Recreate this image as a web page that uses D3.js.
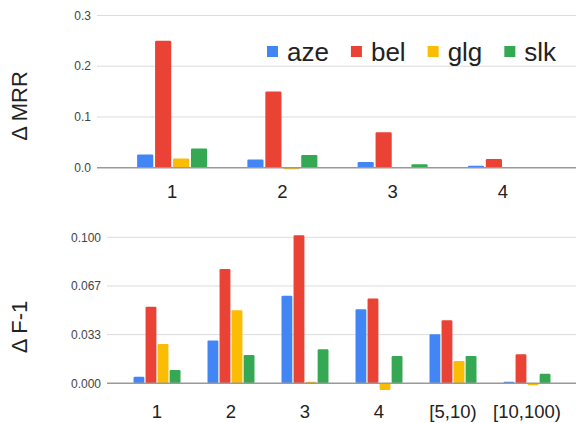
<!DOCTYPE html>
<html>
<head>
<meta charset="utf-8">
<script src="https://cdn.jsdelivr.net/npm/d3@7"></script>
<style>
  body { margin: 0; background: #fff; }
  svg { display: block; font-family: "Liberation Sans", Arial, sans-serif; }
</style>
</head>
<body>
<script>
// series + categories
const langs = ["aze", "bel", "glg", "slk"];
const colors = ["#4285F4", "#EA4335", "#FBBC04", "#34A853"];

const mrrCats = ["1", "2", "3", "4"];
const mrrVals = {
  aze: [0.026, 0.016, 0.011, 0.004],
  bel: [0.250, 0.150, 0.070, 0.017],
  glg: [0.018, -0.003, 0.000, 0.000],
  slk: [0.038, 0.025, 0.007, 0.001]
};
const mrrTicks = [0, 0.1, 0.2, 0.3];
const mrrTickLabels = ["0.0", "0.1", "0.2", "0.3"];

const f1Cats = ["1", "2", "3", "4", "[5,10)", "[10,100)"];
const f1Vals = {
  aze: [0.0045, 0.0294, 0.060, 0.0507, 0.0336, 0.001],
  bel: [0.0525, 0.0783, 0.1014, 0.058, 0.0432, 0.0199],
  glg: [0.0269, 0.050, 0.001, -0.0046, 0.0153, -0.0014],
  slk: [0.0091, 0.0194, 0.0233, 0.0187, 0.0187, 0.0066]
};
const f1Ticks = [0, 0.1 / 3, 0.2 / 3, 0.1];
const f1TickLabels = ["0.000", "0.033", "0.067", "0.100"];

const W = 576, H = 423;
const svg = d3.select("body").append("svg")
  .attr("width", W).attr("height", H);

function panel(opts) {
  const g = svg.append("g");
  const x = d3.scaleBand().domain(opts.cats).range(opts.xr)
    .paddingInner(0.365).paddingOuter(0.1825);
  const xs = d3.scaleBand().domain(langs).range([0, x.bandwidth()])
    .paddingInner(0.1);
  const y = d3.scaleLinear().domain(opts.domain).range(opts.yr);

  // grid
  g.selectAll(".grid")
    .data(opts.ticks.slice(1))
    .join("line")
    .attr("x1", opts.gridLeft).attr("x2", W)
    .attr("y1", d => y(d)).attr("y2", d => y(d))
    .attr("stroke", "#dcdcdc").attr("stroke-width", 1);

  g.selectAll(".tl")
    .data(opts.ticks)
    .join("text")
    .attr("x", opts.gridLeft - 6)
    .attr("y", d => y(d))
    .attr("dy", "0.35em")
    .attr("text-anchor", "end")
    .attr("font-size", 12)
    .attr("fill", "#444")
    .text((d, i) => opts.tickLabels[i]);

  // bars
  langs.forEach((l, li) => {
    g.selectAll(".b" + l)
      .data(opts.vals[l])
      .join("rect")
      .attr("x", (d, i) => x(opts.cats[i]) + xs(l))
      .attr("width", xs.bandwidth())
      .attr("y", d => y(Math.max(0, d)))
      .attr("height", d => Math.abs(y(d) - y(0)))
      .attr("rx", 1.2)
      .attr("fill", colors[li]);
  });

  // baseline
  g.append("line")
    .attr("x1", opts.gridLeft).attr("x2", W)
    .attr("y1", y(0)).attr("y2", y(0))
    .attr("stroke", "#999").attr("stroke-width", 1.5);

  // x labels
  g.selectAll(".xl")
    .data(opts.cats)
    .join("text")
    .attr("x", d => x(d) + x.bandwidth() / 2)
    .attr("y", opts.labelY)
    .attr("text-anchor", "middle")
    .attr("font-size", 18.5)
    .attr("fill", "#222")
    .text(d => d);

  // y title
  g.append("text")
    .attr("transform", `translate(27,${opts.titleY}) rotate(-90)`)
    .attr("text-anchor", "middle")
    .attr("font-size", 22)
    .attr("fill", "#222")
    .text(opts.title);
}

panel({
  cats: mrrCats, vals: mrrVals, ticks: mrrTicks, tickLabels: mrrTickLabels,
  domain: [0, 0.3], yr: [167.7, 15.5], xr: [117, 558], gridLeft: 97,
  labelY: 198, titleY: 106, title: "Δ MRR"
});

panel({
  cats: f1Cats, vals: f1Vals, ticks: f1Ticks, tickLabels: f1TickLabels,
  domain: [0, 0.1], yr: [383.3, 237.3], xr: [120, 564], gridLeft: 107,
  labelY: 418, titleY: 327, title: "Δ F-1"
});

// legend
const leg = svg.append("g");
let lx = 267;
langs.forEach((l, i) => {
  leg.append("rect")
    .attr("x", lx).attr("y", 46).attr("width", 11).attr("height", 11)
    .attr("fill", colors[i]);
  const t = leg.append("text")
    .attr("x", lx + 20).attr("y", 61)
    .attr("font-size", 26)
    .attr("fill", "#222")
    .text(l);
  lx += 20 + t.node().getComputedTextLength() + 22;
});
</script>
</body>
</html>
